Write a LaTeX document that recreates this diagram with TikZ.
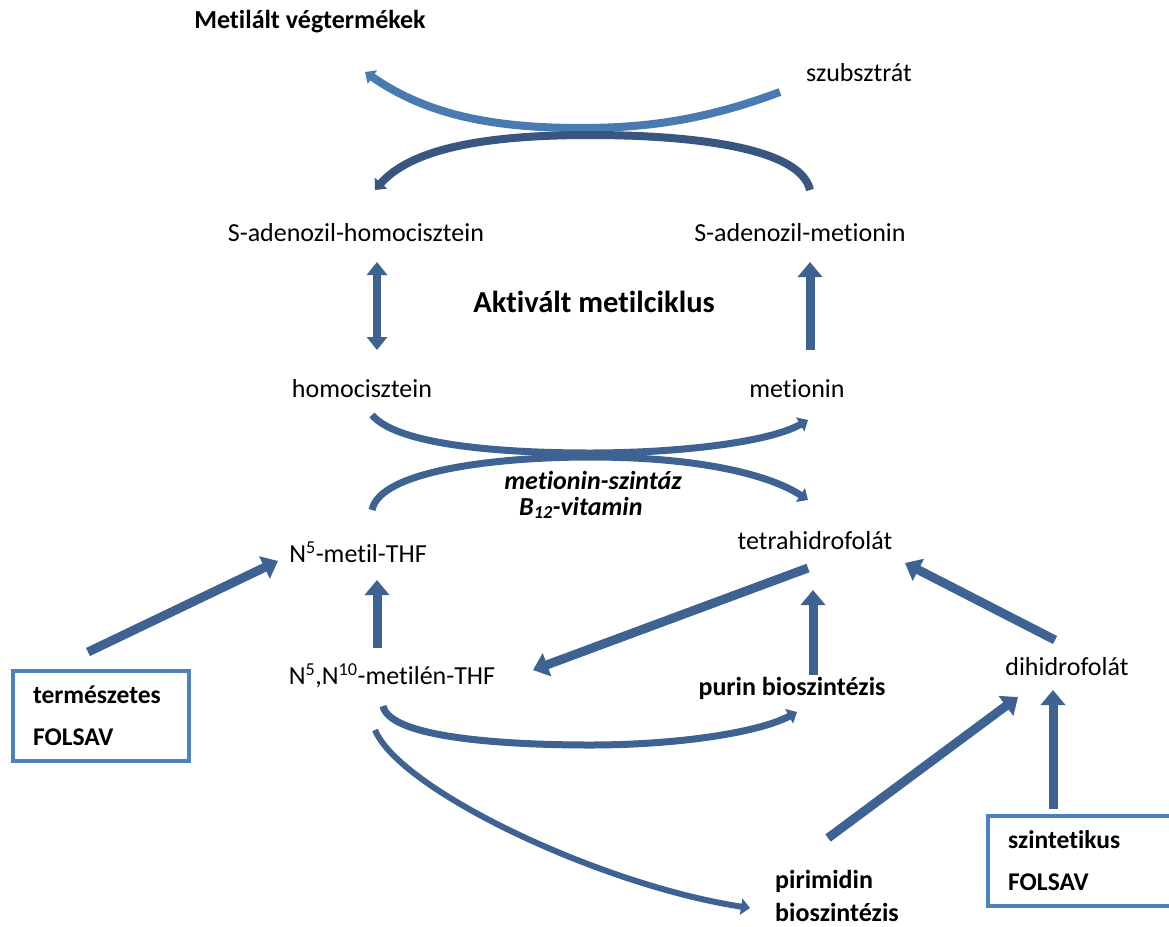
\documentclass[tikz,border=0pt]{standalone}
\usepackage{fontspec}
\setmainfont[Ligatures={NoCommon,NoContextual},Contextuals=NoAlternate]{Carlito}
\usetikzlibrary{arrows.meta,calc}
\definecolor{arrowc}{RGB}{62,98,145}
\definecolor{lightarc}{RGB}{74,122,178}
\definecolor{darkarc}{RGB}{56,86,128}
\definecolor{boxc}{RGB}{79,129,189}
\begin{document}
\begin{tikzpicture}[x=1pt,y=-1pt,
  lbl/.style={inner sep=0pt,font=\fontsize{26}{31}\selectfont},
  blbl/.style={lbl,font=\fontsize{26}{31}\selectfont\bfseries},
  sarrow/.style={draw=arrowc,line width=9pt,-{Triangle[width=24pt,length=15pt]}},
  darrow/.style={draw=arrowc,line width=8pt,{Triangle[width=20pt,length=13pt]}-{Triangle[width=20pt,length=13pt]}},
  carrow/.style={draw=arrowc,line width=7pt,-{Triangle[width=16pt,length=9pt]}},
  fbox/.style={draw=boxc,line width=3.5pt,inner xsep=20pt,align=left,text width=136pt,minimum height=90pt,font=\fontsize{25.5}{42}\selectfont\bfseries},
  openbox/.style={inner xsep=20pt,inner ysep=0pt,align=left,text width=150pt,minimum height=90pt,font=\fontsize{25.5}{42}\selectfont\bfseries}
]
\useasboundingbox (0,0) rectangle (1169,926);
% nodes
\node[blbl] (metvt) at (310,22) {Metilált végtermékek};
\node[lbl] (szub) at (859,73) {szubsztrát};
\node[lbl] (sah) at (356,233) {S-adenozil-homocisztein};
\node[lbl] (sam) at (800,233) {S-adenozil-metionin};
\node[lbl,font=\fontsize{30.5}{36}\selectfont\bfseries] (akt) at (594,302) {Aktivált metilciklus};
\node[lbl] (hcy) at (362,389) {homocisztein};
\node[lbl] (met) at (797,389) {metionin};
\node[blbl,font=\fontsize{26}{31}\selectfont\bfseries\itshape] (msz) at (593,480) {metionin-szintáz};
\node[blbl,font=\fontsize{26}{31}\selectfont\bfseries\itshape,anchor=west] (b12) at (519,508) {B\textsubscript{12}-vitamin};
\node[lbl] (n5m) at (358,552) {N\textsuperscript{5}-metil-THF};
\node[lbl] (thf) at (815,541) {tetrahidrofolát};
\node[lbl] (n5n10) at (392,676) {N\textsuperscript{5},N\textsuperscript{10}-metilén-THF};
\node[blbl] (purin) at (792,688) {purin bioszintézis};
\node[lbl] (dhf) at (1067,667) {dihidrofolát};
\node[fbox] (natbox) at (101,716) {természetes\\FOLSAV};
\node[openbox,anchor=west] (synbox) at (988,861) {szintetikus\\FOLSAV};
\draw[boxc,line width=3.5pt] (synbox.north east) ++(40,0) -- (synbox.north west) -- (synbox.south west) -- ++(230,0);
\node[blbl,align=left,anchor=west,font=\fontsize{26}{33}\selectfont\bfseries] (pirim) at (775,896) {pirimidin\\bioszintézis};
% straight arrows
\draw[sarrow] ($(natbox)+(-13,-64)$) -- ($(n5m)+(-80,9)$);
\draw[darrow] ($(sah)+(21,29)$) -- ($(hcy)+(15,-39)$);
\draw[sarrow] ($(met)+(13,-39)$) -- ($(sam)+(10,29)$);
\draw[sarrow] ($(n5n10)+(-15,-28)$) -- ($(n5m)+(19,28)$);
\draw[sarrow] ($(thf)+(-7,27)$) -- ($(n5n10)+(141,-6)$);
\draw[sarrow] ($(purin)+(21,-13)$) -- ($(thf)+(-2,49)$);
\draw[sarrow] ($(dhf)+(-12,-27)$) -- ($(thf)+(90,22)$);
\draw[sarrow] ($(synbox.north west)+(65,-7)$) -- ($(dhf)+(-14,23)$);
\draw[sarrow] ($(pirim.west)+(53,-58)$) -- ($(dhf)+(-49,30)$);
% curved arrows
\draw[carrow,draw=lightarc,line width=8pt] ($(szub)+(-79,19)$) .. controls (700,122) and (640,128) .. (580,128) .. controls (480,128) and (420,110) .. ($(metvt)+(55,50)$);
\draw[carrow,draw=darkarc,line width=8pt] ($(sam)+(10,-43)$) .. controls (800,145) and (680,135) .. (590,135) .. controls (480,135) and (410,150) .. ($(sah)+(19,-43)$);
\draw[carrow] ($(hcy)+(10,26)$) .. controls (400,448) and (520,453) .. (590,453) .. controls (680,453) and (770,442) .. ($(met)+(11,31)$);
\draw[carrow] ($(n5m)+(14,-42)$) .. controls (380,470) and (500,457) .. (590,457) .. controls (700,457) and (770,475) .. ($(thf)+(-7,-41)$);
\draw[carrow] ($(n5n10)+(-9,30)$) .. controls (390,740) and (520,745) .. (590,745) .. controls (680,745) and (760,732) .. ($(purin)+(5,24)$);
\draw[carrow,line width=6pt] ($(n5n10)+(-17,54)$) .. controls (400,790) and (600,885) .. ($(pirim.west)+(-25,12)$);
\end{tikzpicture}
\end{document}
